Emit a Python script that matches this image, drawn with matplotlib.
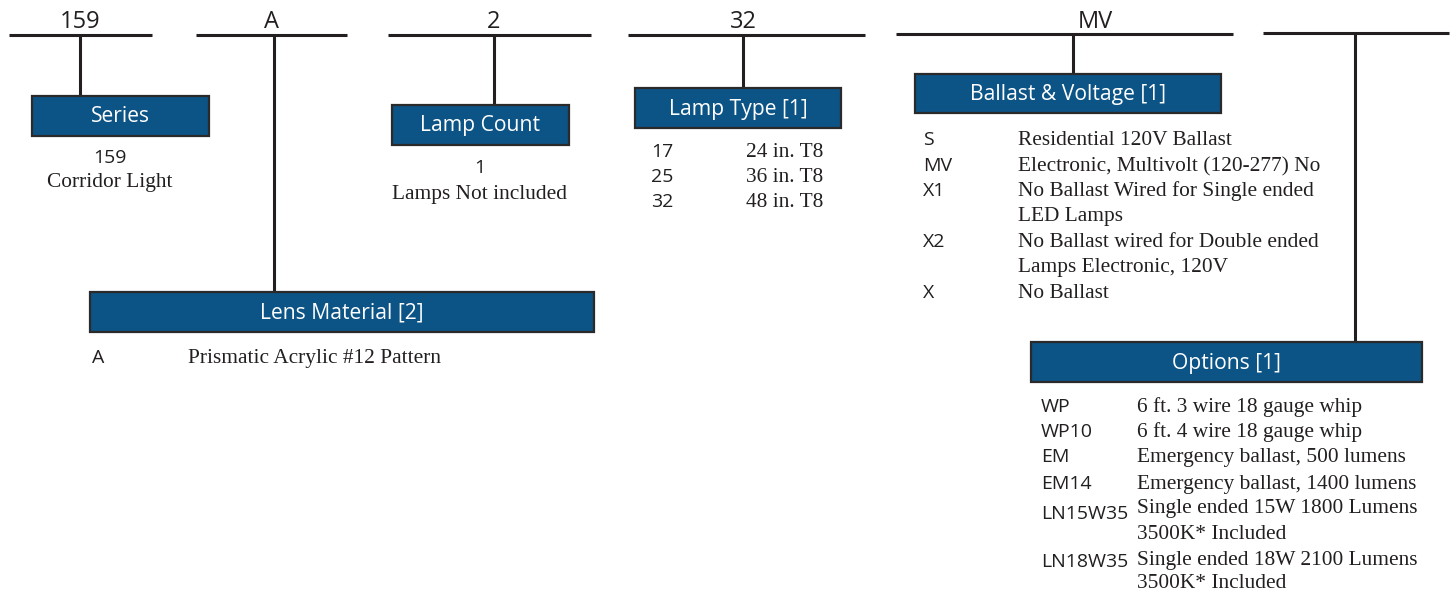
"""Ordering guide diagram for the 159 corridor light."""

import matplotlib.pyplot as plt
from matplotlib.patches import Rectangle

# catalogue number segments, left to right
segment_codes = ["159", "A", "2", "32", "MV", ""]
box_titles = ["Series", "Lens Material [2]", "Lamp Count", "Lamp Type [1]",
              "Ballast & Voltage [1]", "Options [1]"]

series_lines = ["159", "Corridor Light"]
lamp_count_lines = ["1", "Lamps Not included"]

lamp_type_codes = ["17", "25", "32"]
lamp_type_desc = ["24 in. T8", "36 in. T8", "48 in. T8"]

lens_codes = ["A"]
lens_desc = ["Prismatic Acrylic #12 Pattern"]

ballast_codes = ["S", "MV", "X1", "", "X2", "", "X"]
ballast_desc = ["Residential 120V Ballast", "Electronic, Multivolt (120-277) No",
                "No Ballast Wired for Single ended", "LED Lamps",
                "No Ballast wired for Double ended", "Lamps Electronic, 120V",
                "No Ballast"]

option_codes = ["WP", "WP10", "EM", "EM14", "LN15W35", "", "LN18W35", ""]
option_desc = ["6 ft. 3 wire 18 gauge whip", "6 ft. 4 wire 18 gauge whip",
               "Emergency ballast, 500 lumens", "Emergency ballast, 1400 lumens",
               "Single ended 15W 1800 Lumens", "3500K* Included",
               "Single ended 18W 2100 Lumens", "3500K* Included"]

# layout in pixels (x0, x1, y) of the header rules, stem x and box extents
rules = [(9, 152, 35), (196, 347, 35), (388, 591, 35), (628, 865, 35),
         (896, 1233, 34), (1263, 1449, 33)]
label_x = [80, 272, 494, 743, 1095, None]
stems = [(80, 96), (274, 292), (494, 105), (743, 88), (1073, 74), (1355, 342)]
boxes = [(32, 209, 96, 136), (90, 594, 292, 332), (392, 569, 105, 145),
         (635, 841, 88, 128), (915, 1221, 74, 113), (1031, 1422, 342, 382)]

BLUE = "#0c5386"
INK = "#231f20"
SANS = "Open Sans"
SERIF = "Liberation Serif"
CODE_PT = 14
DESC_PT = 15.4

fig = plt.figure(figsize=(14.53, 5.92), dpi=100)
ax = fig.add_axes([0, 0, 1, 1])
ax.set_xlim(0, 1453)
ax.set_ylim(592, 0)
ax.axis("off")

for (x0, x1, y), lx, (sx, sy1), (bx0, bx1, by0, by1), code, title in zip(
        rules, label_x, stems, boxes, segment_codes, box_titles):
    ax.plot([x0, x1], [y, y], color=INK, linewidth=2.2, solid_capstyle="butt")
    ax.plot([sx, sx], [y, sy1], color=INK, linewidth=2.2, solid_capstyle="butt")
    if lx is not None and code:
        ax.text(lx, 28, code, family=SANS, fontsize=17, color=INK,
                ha="center", va="baseline")
    ax.add_patch(Rectangle((bx0, by0), bx1 - bx0, by1 - by0, facecolor=BLUE,
                           edgecolor="#2a2a2a", linewidth=1.6, zorder=3))
    ax.text((bx0 + bx1) / 2, (by0 + by1) / 2 + 1, title, family=SANS,
            fontsize=15.2, color="white", ha="center", va="center", zorder=4)

# single-entry blocks under Series and Lamp Count
ax.text(110, 163, series_lines[0], family=SANS, fontsize=CODE_PT, color=INK,
        ha="center", va="baseline")
ax.text(110, 187, series_lines[1], family=SERIF, fontsize=DESC_PT, color=INK,
        ha="center", va="baseline")
ax.text(480, 173, lamp_count_lines[0], family=SANS, fontsize=CODE_PT, color=INK,
        ha="center", va="baseline")
ax.text(480, 199, lamp_count_lines[1], family=SERIF, fontsize=DESC_PT, color=INK,
        ha="center", va="baseline")


def code_table(codes, descs, code_x, desc_x, code_y, desc_y):
    for c, d, cy, dy in zip(codes, descs, code_y, desc_y):
        if c:
            ax.text(code_x, cy, c, family=SANS, fontsize=CODE_PT, color=INK,
                    ha="left", va="baseline")
        ax.text(desc_x, dy, d, family=SERIF, fontsize=DESC_PT, color=INK,
                ha="left", va="baseline")


lt_y = [157, 182, 207]
code_table(lamp_type_codes, lamp_type_desc, 651, 746, lt_y, lt_y)

code_table(lens_codes, lens_desc, 92, 188, [363], [363])

bal_y = [145, 171, 196, 221, 247, 272, 298]
code_table(ballast_codes, ballast_desc, 923, 1018, bal_y, bal_y)

opt_code_y = [412, 437, 462, 489, 519, 539, 567, 588]
opt_desc_y = [412, 437, 462, 489, 513, 539, 565, 588]
code_table(option_codes, option_desc, 1041, 1137, opt_code_y, opt_desc_y)

fig.savefig("out.png", dpi=100)
